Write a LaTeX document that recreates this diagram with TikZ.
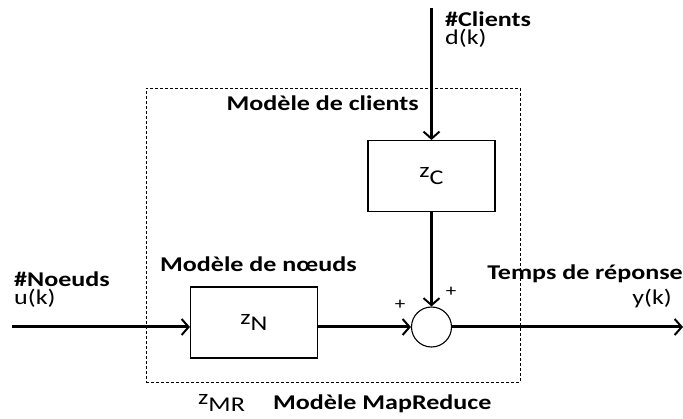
\documentclass[tikz,border=0pt]{standalone}
\usepackage{graphicx}
\usepackage{fontspec}
\setmainfont{Carlito}
\usetikzlibrary{arrows.meta}
\newcommand\sxw[1]{\scalebox{1.24}[1]{#1}}
\begin{document}
\begin{tikzpicture}[x=1pt,y=-1pt,
  lbl/.style={font=\fontsize{21}{18}\selectfont\bfseries, inner sep=0pt},
  sig/.style={font=\fontsize{21}{18}\selectfont, inner sep=0pt},
  blk/.style={draw, line width=1.1pt, minimum width=127pt, minimum height=71pt, inner sep=0pt, font=\fontsize{21}{22}\selectfont},
  conn/.style={line width=3pt, -{Straight Barb[length=7pt,width=16pt,line width=2pt]}},
  frame/.style={draw, line width=0.7pt, dash pattern=on 3pt off 2pt}]
\useasboundingbox (0,0) rectangle (683,419);
\node[frame, minimum width=374pt, minimum height=294pt, inner sep=0pt] (mr) at (333,235) {};
\node[blk] (zc) at (431.5,176) {\sxw{z\raisebox{-0.3em}{C}}};
\node[blk] (zn) at (254,322.5) {\sxw{z\raisebox{-0.3em}{N}}};
\node[draw, circle, line width=1.1pt, minimum size=40pt, inner sep=0pt] (sum) at (431.5,327) {};
\coordinate (din) at (431.5,8);
\coordinate (uin) at (12,327);
\coordinate (yout) at (683,327);
\draw[conn] (din) -- (zc.north);
\draw[conn] (uin) -- (zn.west |- uin);
\draw[conn] (zn.east |- uin) -- (sum.west);
\draw[conn] (zc.south) -- (sum.north);
\draw[conn] (sum.east) -- (yout);
\node[lbl, anchor=base west] (tc) at (445,27) {\sxw{\#Clients}};
\node[sig, anchor=base west] (td) at (445,45) {\sxw{d(k)}};
\node[lbl, anchor=base east] (tmc) at (419,111) {\sxw{Modèle de clients}};
\node[lbl, anchor=base west] (tmn) at (160,272) {\sxw{Modèle de nœuds}};
\node[lbl, anchor=base west] (tno) at (14,287) {\sxw{\#Noeuds}};
\node[sig, anchor=base west] (tu) at (14,305) {\sxw{u(k)}};
\node[lbl, anchor=base east] (ttr) at (683,280) {\sxw{Temps de réponse}};
\node[sig, anchor=base east] (ty) at (672,305) {\sxw{y(k)}};
\node[sig, font=\fontsize{17}{18}\selectfont] (p1) at (400,305) {\sxw{+}};
\node[sig, font=\fontsize{17}{18}\selectfont] (p2) at (451,292) {\sxw{+}};
\node[sig, anchor=base west] (zmr) at (198,405) {\sxw{z\raisebox{-0.3em}{MR}}};
\node[lbl, anchor=base west] (tmr) at (273,410) {\sxw{Modèle MapReduce}};
\end{tikzpicture}
\end{document}
